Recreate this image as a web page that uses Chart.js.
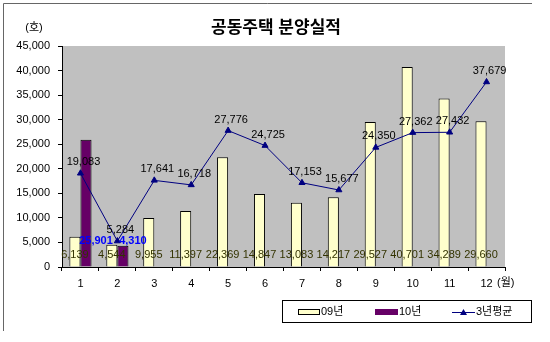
<!DOCTYPE html>
<html>
<head>
<meta charset="utf-8">
<script src="https://cdn.jsdelivr.net/npm/chart.js@4/dist/chart.umd.min.js"></script>
<style>
  html, body { margin: 0; padding: 0; background: #fff; }
  #wrap { width: 550px; height: 342px; position: relative; }
</style>
</head>
<body>
<div id="wrap"><canvas id="myChart" width="550" height="342"></canvas></div>
<script>
// 월 (categories)
const months = ['1', '2', '3', '4', '5', '6', '7', '8', '9', '10', '11', '12'];
// 09년 분양실적
const y09 = [6139, 4544, 9955, 11397, 22369, 14847, 13083, 14217, 29527, 40701, 34289, 29660];
// 10년 분양실적 (1~2월만)
const y10 = [25901, 4310, null, null, null, null, null, null, null, null, null, null];
// 3년평균
const avg3 = [19083, 5284, 17641, 16718, 27776, 24725, 17153, 15677, 24350, 27362, 27432, 37679];
const seriesNames = ['09년', '10년', '3년평균'];
const yTicks = [0, 5000, 10000, 15000, 20000, 25000, 30000, 35000, 40000, 45000];

const FONT = "'Liberation Sans', 'Noto Sans CJK KR', sans-serif";
const fmt = v => Number(v).toLocaleString('en-US');

// 배경, 제목, 테두리, 범례, 값 라벨을 그리는 플러그인
const decorPlugin = {
    id: 'decor',
    beforeDraw(chart) {
        const ctx = chart.ctx;
        const a = chart.chartArea;
        ctx.save();
        ctx.fillStyle = '#fff';
        ctx.fillRect(0, 0, chart.width, chart.height);
        ctx.fillStyle = '#C0C0C0';
        ctx.fillRect(a.left, a.top, a.right - a.left, a.bottom - a.top);
        // 바깥 테두리 (위, 왼쪽)
        ctx.strokeStyle = '#666';
        ctx.lineWidth = 1;
        ctx.beginPath();
        ctx.moveTo(3.5, 331);
        ctx.lineTo(3.5, 3.5);
        ctx.lineTo(532, 3.5);
        ctx.stroke();
        ctx.restore();
    },
    afterDatasetsDraw(chart) {
        const ctx = chart.ctx;
        const yScale = chart.scales.y;
        ctx.save();
        ctx.textAlign = 'center';
        ctx.textBaseline = 'middle';

        // 09년 라벨 (축 바로 위)
        ctx.font = '11px ' + FONT;
        ctx.fillStyle = '#333300';
        chart.getDatasetMeta(0).data.forEach((el, i) => {
            if (y09[i] == null) return;
            ctx.fillText(fmt(y09[i]), el.x, yScale.bottom - 12);
        });

        // 10년 라벨 (파란색 굵게)
        ctx.font = 'bold 11px ' + FONT;
        ctx.fillStyle = '#0000FF';
        chart.getDatasetMeta(1).data.forEach((el, i) => {
            if (y10[i] == null) return;
            ctx.fillText(fmt(y10[i]), el.x + 10, yScale.bottom - 26);
        });

        // 3년평균 라벨
        ctx.font = '11px ' + FONT;
        ctx.fillStyle = '#000';
        chart.getDatasetMeta(2).data.forEach((el, i) => {
            ctx.fillText(fmt(avg3[i]), el.x + 3, el.y - 11);
        });
        ctx.restore();
    },
    afterDraw(chart) {
        const ctx = chart.ctx;
        ctx.save();
        ctx.fillStyle = '#000';
        ctx.textBaseline = 'middle';

        // 제목
        ctx.textAlign = 'center';
        ctx.font = 'bold 17px ' + FONT;
        ctx.fillText('공동주택 분양실적', 276, 28);

        // 단위
        ctx.font = '11px ' + FONT;
        ctx.fillText('(호)', 34, 28);
        ctx.textAlign = 'left';
        ctx.fillText('(월)', 497, 283);

        // 범례
        ctx.strokeStyle = '#000';
        ctx.lineWidth = 1;
        ctx.strokeRect(282.5, 300.5, 249, 22);
        const ly = 312;
        ctx.fillStyle = '#FFFFCC';
        ctx.fillRect(298, ly - 3, 22, 6);
        ctx.strokeRect(298.5, ly - 2.5, 21, 5);
        ctx.fillStyle = '#000';
        ctx.fillText(seriesNames[0], 321, ly);

        ctx.fillStyle = '#660066';
        ctx.fillRect(375, ly - 3, 23, 6);
        ctx.fillStyle = '#000';
        ctx.fillText(seriesNames[1], 399, ly);

        ctx.strokeStyle = '#000080';
        ctx.beginPath();
        ctx.moveTo(452, ly + 0.5);
        ctx.lineTo(475, ly + 0.5);
        ctx.stroke();
        ctx.fillStyle = '#000080';
        ctx.beginPath();
        ctx.moveTo(463.5, ly - 3);
        ctx.lineTo(467, ly + 3);
        ctx.lineTo(460, ly + 3);
        ctx.closePath();
        ctx.fill();
        ctx.fillStyle = '#000';
        ctx.fillText(seriesNames[2], 476, ly);
        ctx.restore();
    }
};

const ctx = document.getElementById('myChart').getContext('2d');
new Chart(ctx, {
    type: 'bar',
    data: {
        labels: months,
        datasets: [
            {
                label: seriesNames[0],
                data: y09,
                backgroundColor: '#FFFFCC',
                borderColor: '#000',
                borderWidth: 1,
                categoryPercentage: 0.6,
                barPercentage: 1.0,
                order: 1
            },
            {
                label: seriesNames[1],
                data: y10,
                backgroundColor: '#660066',
                borderColor: '#000',
                borderWidth: 1,
                categoryPercentage: 0.6,
                barPercentage: 1.0,
                order: 1
            },
            {
                type: 'line',
                label: seriesNames[2],
                data: avg3,
                borderColor: '#000080',
                backgroundColor: '#000080',
                borderWidth: 1,
                pointStyle: 'triangle',
                pointRadius: 3.5,
                pointBorderWidth: 1,
                tension: 0,
                order: 0
            }
        ]
    },
    options: {
        responsive: false,
        animation: false,
        events: [],
        layout: { padding: { left: 3, right: 45, top: 46, bottom: 0 } },
        plugins: {
            legend: { display: false },
            tooltip: { enabled: false },
            title: { display: false }
        },
        scales: {
            x: {
                offset: true,
                grid: {
                    offset: true,
                    drawOnChartArea: false,
                    drawTicks: true,
                    tickLength: 4,
                    color: '#000'
                },
                border: { display: true, color: '#000' },
                ticks: {
                    color: '#000',
                    font: { family: FONT, size: 11 },
                    padding: 6,
                    maxRotation: 0
                },
                afterFit(scale) { scale.height = 75; }
            },
            y: {
                min: 0,
                max: 45000,
                afterBuildTicks(scale) { scale.ticks = yTicks.map(v => ({ value: v })); },
                grid: {
                    drawOnChartArea: false,
                    drawTicks: true,
                    tickLength: 4,
                    color: '#000'
                },
                border: { display: true, color: '#000' },
                ticks: {
                    color: '#000',
                    font: { family: FONT, size: 11 },
                    padding: 8,
                    callback: v => fmt(v)
                },
                afterFit(scale) { scale.width = 59; }
            }
        }
    },
    plugins: [decorPlugin]
});
</script>
</body>
</html>
